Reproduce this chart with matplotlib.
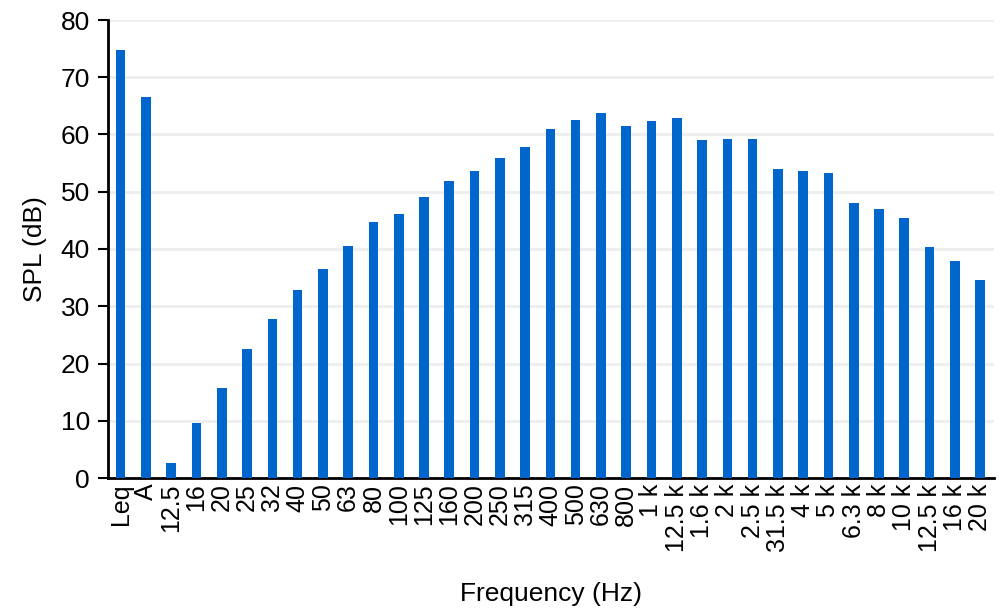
import matplotlib.pyplot as plt
import numpy as np

plt.rcParams['font.family'] = ['Liberation Sans', 'DejaVu Sans']

# Третьоктавный спектр уровня звукового давления
bands = ['Leq', 'A', '12.5', '16', '20', '25', '32', '40', '50', '63', '80',
         '100', '125', '160', '200', '250', '315', '400', '500', '630', '800',
         '1 k', '12.5 k', '1.6 k', '2 k', '2.5 k', '31.5 k', '4 k', '5 k',
         '6.3 k', '8 k', '10 k', '12.5 k', '16 k', '20 k']
spl = [74.7, 66.6, 2.7, 9.6, 15.7, 22.6, 27.8, 32.8, 36.5, 40.5, 44.8,
       46.2, 49.0, 51.8, 53.7, 55.9, 57.9, 61.0, 62.6, 63.8, 61.4,
       62.3, 62.8, 59.1, 59.3, 59.3, 53.9, 53.7, 53.2,
       48.0, 47.0, 45.5, 40.3, 37.9, 34.6]
yticks = [0, 10, 20, 30, 40, 50, 60, 70, 80]

fig = plt.figure(figsize=(10.02, 6.14), dpi=100)
ax = fig.add_axes([108 / 1002, 1 - 478 / 614, (994 - 108) / 1002, (478 - 20) / 614])

x = np.arange(len(bands))
ax.bar(x, spl, width=0.38, color='#0066CC', zorder=3)

ax.set_xlim(-0.5, len(bands) - 0.45)
ax.set_ylim(0, 80)
ax.set_yticks(yticks)
ax.set_xticks(x)
ax.set_xticklabels(bands, rotation=90, fontsize=18)
ax.tick_params(axis='y', labelsize=19, length=7, width=1.5, pad=6,
               direction='out')
ax.tick_params(axis='x', length=0, pad=4)

ax.grid(True, axis='y', color='#eeeeee', linewidth=2, zorder=0)
for side in ['top', 'right']:
    ax.spines[side].set_visible(False)
ax.spines['left'].set_linewidth(2)
ax.spines['bottom'].set_linewidth(2)

ax.set_ylabel('SPL (dB)', fontsize=19, labelpad=10)
ax.set_xlabel('Frequency (Hz)', fontsize=19, labelpad=22)

fig.savefig('out.png', dpi=100)
